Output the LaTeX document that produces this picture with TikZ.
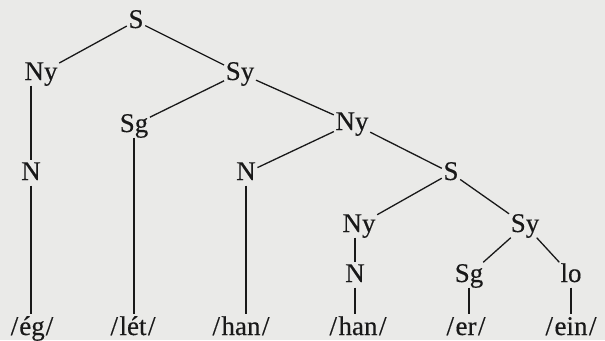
\documentclass[tikz,border=0pt]{standalone}
\usepackage{fontspec}
\setmainfont{Liberation Serif}[FakeBold=0.35]
\definecolor{paper}{RGB}{234,234,232}
\definecolor{ink}{RGB}{25,25,25}
\tikzset{
  cat/.style={inner sep=1.5pt, text height=18pt, text depth=4pt, anchor=base,
    font=\fontsize{27}{31}\selectfont, text=ink},
  leaf/.style={inner sep=1.5pt, text height=19pt, text depth=5pt, anchor=base,
    font=\fontsize{27}{31}\selectfont, text=ink},
  br/.style={draw=ink, line width=1.3pt},
}
\begin{document}
\begin{tikzpicture}[x=1pt,y=-1pt]
\fill[paper] (0,0) rectangle (605,340);
\useasboundingbox (0,0) rectangle (605,340);
% categories (baseline positions)
\node[cat] (S)   at (136,28)  {S};
\node[cat] (Ny)  at (41,80)   {Ny};
\node[cat] (Sy)  at (240,80)  {Sy};
\node[cat] (Sg)  at (134,132) {Sg};
\node[cat] (Ny2) at (352,130) {Ny};
\node[cat] (N1)  at (31,180)  {N};
\node[cat] (N2)  at (246,180) {N};
\node[cat] (S2)  at (451,180) {S};
\node[cat] (Ny3) at (359,232) {Ny};
\node[cat] (Sy2) at (525,232) {Sy};
\node[cat] (N3)  at (355,282) {N};
\node[cat] (Sg2) at (469,282) {Sg};
\node[cat] (lo)  at (571,282) {lo};
% leaves
\node[leaf] (l1) at (32,335)  {/\kern1pt ég\kern1pt/};
\node[leaf] (l2) at (133,335) {/\kern1.5pt lét\kern1.5pt/};
\node[leaf] (l3) at (241,335) {/\kern1.5pt han\kern1.5pt/};
\node[leaf] (l4) at (358,335) {/\kern1.5pt han\kern1.5pt/};
\node[leaf] (l5) at (466,335) {/\kern1.5pt er\kern1.5pt/};
\node[leaf] (l6) at (571,335) {/\kern1.5pt ein\kern1.5pt/};
% branches
\draw[br] (S) -- (Ny);
\draw[br] (S) -- (Sy);
\draw[br] (Sy) -- (Sg);
\draw[br] (Sy) -- (Ny2);
\draw[br] (Ny2) -- (N2);
\draw[br] (Ny2) -- (S2);
\draw[br] (S2) -- (Ny3);
\draw[br] (S2) -- (Sy2);
\draw[br] (Sy2) -- (Sg2);
\draw[br] (Sy2) -- (lo);
% vertical lines
\draw[br] (N1.north |- Ny.south) -- (N1.north);
\draw[br] (N1.south) -- (N1.south |- l1.north);
\draw[br] (Sg.south) -- (Sg.south |- l2.north);
\draw[br] (N2.south) -- (N2.south |- l3.north);
\draw[br] (N3.north |- Ny3.south) -- (N3.north);
\draw[br] (N3.south) -- (N3.south |- l4.north);
\draw[br] (Sg2.south) -- (Sg2.south |- l5.north);
\draw[br] (lo.south) -- (lo.south |- l6.north);
\end{tikzpicture}
\end{document}
